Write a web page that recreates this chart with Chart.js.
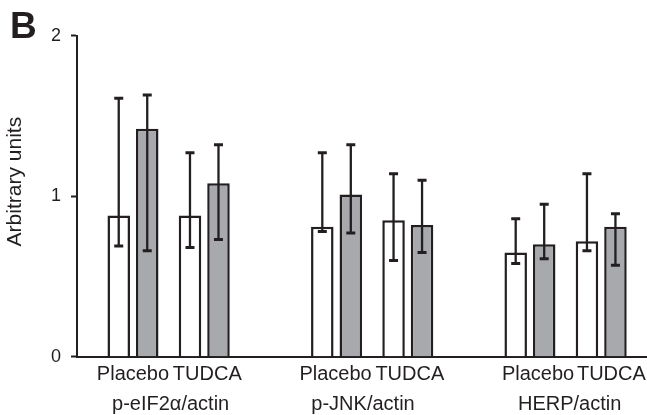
<!DOCTYPE html>
<html><head><meta charset="utf-8">
<script src="https://cdn.jsdelivr.net/npm/chart.js@4"></script>
<style>html,body{margin:0;padding:0;background:#fff}#wrap{width:647px;height:415px}</style>
</head><body><div id="wrap"><canvas id="c"></canvas></div>
<script>
// ---- data ----
const groups = ['p-eIF2α/actin', 'p-JNK/actin', 'HERP/actin'];
const treatments = ['Placebo', 'TUDCA'];
const whiteMean = [0.88, 0.88, 0.81, 0.85, 0.65, 0.72];
const whiteHi   = [1.61, 1.27, 1.27, 1.14, 0.86, 1.14];
const whiteLo   = [0.69, 0.68, 0.78, 0.60, 0.58, 0.66];
const grayMean  = [1.42, 1.08, 1.01, 0.82, 0.70, 0.81];
const grayHi    = [1.63, 1.32, 1.32, 1.10, 0.95, 0.89];
const grayLo    = [0.66, 0.73, 0.77, 0.65, 0.61, 0.57];
const yTicks = [0, 1, 2];

// ---- layout (slot grid on the category axis) ----
const SLOTS = 56;
const pairSlot = [5, 12, 25, 32, 44, 51];
const treatLabelSlot = [5.0, 12.3, 24.9, 32.2, 44.8, 52.0];
const groupLabelSlot = [8.7, 27.6, 47.9];
const ink = '#231f20';

const labels = Array.from({length: SLOTS}, () => '');
pairSlot.forEach((s, k) => { labels[s] = treatments[k % 2]; });
const slotData = vals => {
  const arr = Array.from({length: SLOTS}, () => null);
  pairSlot.forEach((s, k) => { arr[s] = vals[k]; });
  return arr;
};

Chart.defaults.font.family = "'Liberation Sans', Arial, sans-serif";
Chart.defaults.color = ink;

const errorBars = {
  id: 'errorBars',
  afterDatasetsDraw(chart) {
    const ctx = chart.ctx, ys = chart.scales.y;
    chart.data.datasets.forEach((ds, di) => {
      const meta = chart.getDatasetMeta(di);
      meta.data.forEach((el, i) => {
        const k = pairSlot.indexOf(i);
        if (k < 0) return;
        const x = el.x;
        const yh = ys.getPixelForValue(ds.errHi[k]);
        const yl = ys.getPixelForValue(ds.errLo[k]);
        ctx.save();
        ctx.strokeStyle = ink;
        ctx.lineWidth = 2.3;
        ctx.beginPath(); ctx.moveTo(x, yh); ctx.lineTo(x, yl); ctx.stroke();
        ctx.lineWidth = 3;
        ctx.beginPath();
        ctx.moveTo(x - 4.5, yh); ctx.lineTo(x + 4.5, yh);
        ctx.moveTo(x - 4.5, yl); ctx.lineTo(x + 4.5, yl);
        ctx.stroke();
        ctx.restore();
      });
    });
  }
};

const labelAxis = (weight, slots, textFor, gap, height) => ({
  type: 'linear', position: 'bottom', axis: 'x', offset: false, bounds: 'ticks', grace: 0,
  min: -0.5, max: SLOTS - 0.5, weight,
  grid: { display: false, drawTicks: true, tickLength: gap, offset: false },
  border: { display: false },
  afterBuildTicks: s => { s.ticks = slots.map(v => ({ value: v })); },
  ticks: { autoSkip: false, maxRotation: 0, minRotation: 0, font: { size: 20 }, color: ink, padding: 0,
    callback: (v, i) => textFor(i) },
  afterFit: s => { s.height = height; }
});

new Chart(document.getElementById('c'), {
  type: 'bar',
  data: {
    labels,
    datasets: [
      { label: 'white', data: slotData(whiteMean), errHi: whiteHi, errLo: whiteLo,
        backgroundColor: '#ffffff', borderColor: ink, borderWidth: 2.5,
        categoryPercentage: 5.6, barPercentage: 0.79, xAxisID: 'x', yAxisID: 'y' },
      { label: 'gray', data: slotData(grayMean), errHi: grayHi, errLo: grayLo,
        backgroundColor: '#a7a9ac', borderColor: ink, borderWidth: 2.5,
        categoryPercentage: 5.6, barPercentage: 0.79, xAxisID: 'x', yAxisID: 'y' }
    ]
  },
  options: {
    responsive: true, maintainAspectRatio: false, animation: false, devicePixelRatio: 1,
    layout: { padding: { left: 10, right: 0, top: 0, bottom: 0 } },
    plugins: {
      legend: { display: false },
      tooltip: { enabled: false },
      title: { display: true, text: 'B', align: 'start', color: ink,
        font: { size: 37, weight: 'bold', lineHeight: '16px' },
        padding: { top: 19.5, bottom: 0.2 } }
    },
    scales: {
      x: {
        type: 'category', offset: true, weight: 0, z: 1,
        grid: { display: false, drawTicks: false },
        border: { display: true, color: ink, width: 2 },
        ticks: { display: false },
        afterFit: s => { s.height = 0; }
      },
      xt: labelAxis(1, treatLabelSlot, i => treatments[i % 2], 6, 29),
      xg: labelAxis(2, groupLabelSlot, i => groups[i], 7, 29.3),
      y: {
        min: 0, max: 2,
        afterBuildTicks: s => { s.ticks = yTicks.map(v => ({ value: v })); },
        ticks: { font: { size: 18 }, color: ink, padding: 10 },
        grid: { drawOnChartArea: false, drawTicks: true, tickLength: 6, tickWidth: 2, tickColor: ink },
        border: { display: true, color: ink, width: 2 },
        title: { display: true, text: '     Arbitrary units', font: { size: 21 }, color: ink,
          padding: { top: -7.5, bottom: 0 } },
        afterFit: s => { s.width = 67; }
      }
    }
  },
  plugins: [errorBars]
});
</script></body></html>
